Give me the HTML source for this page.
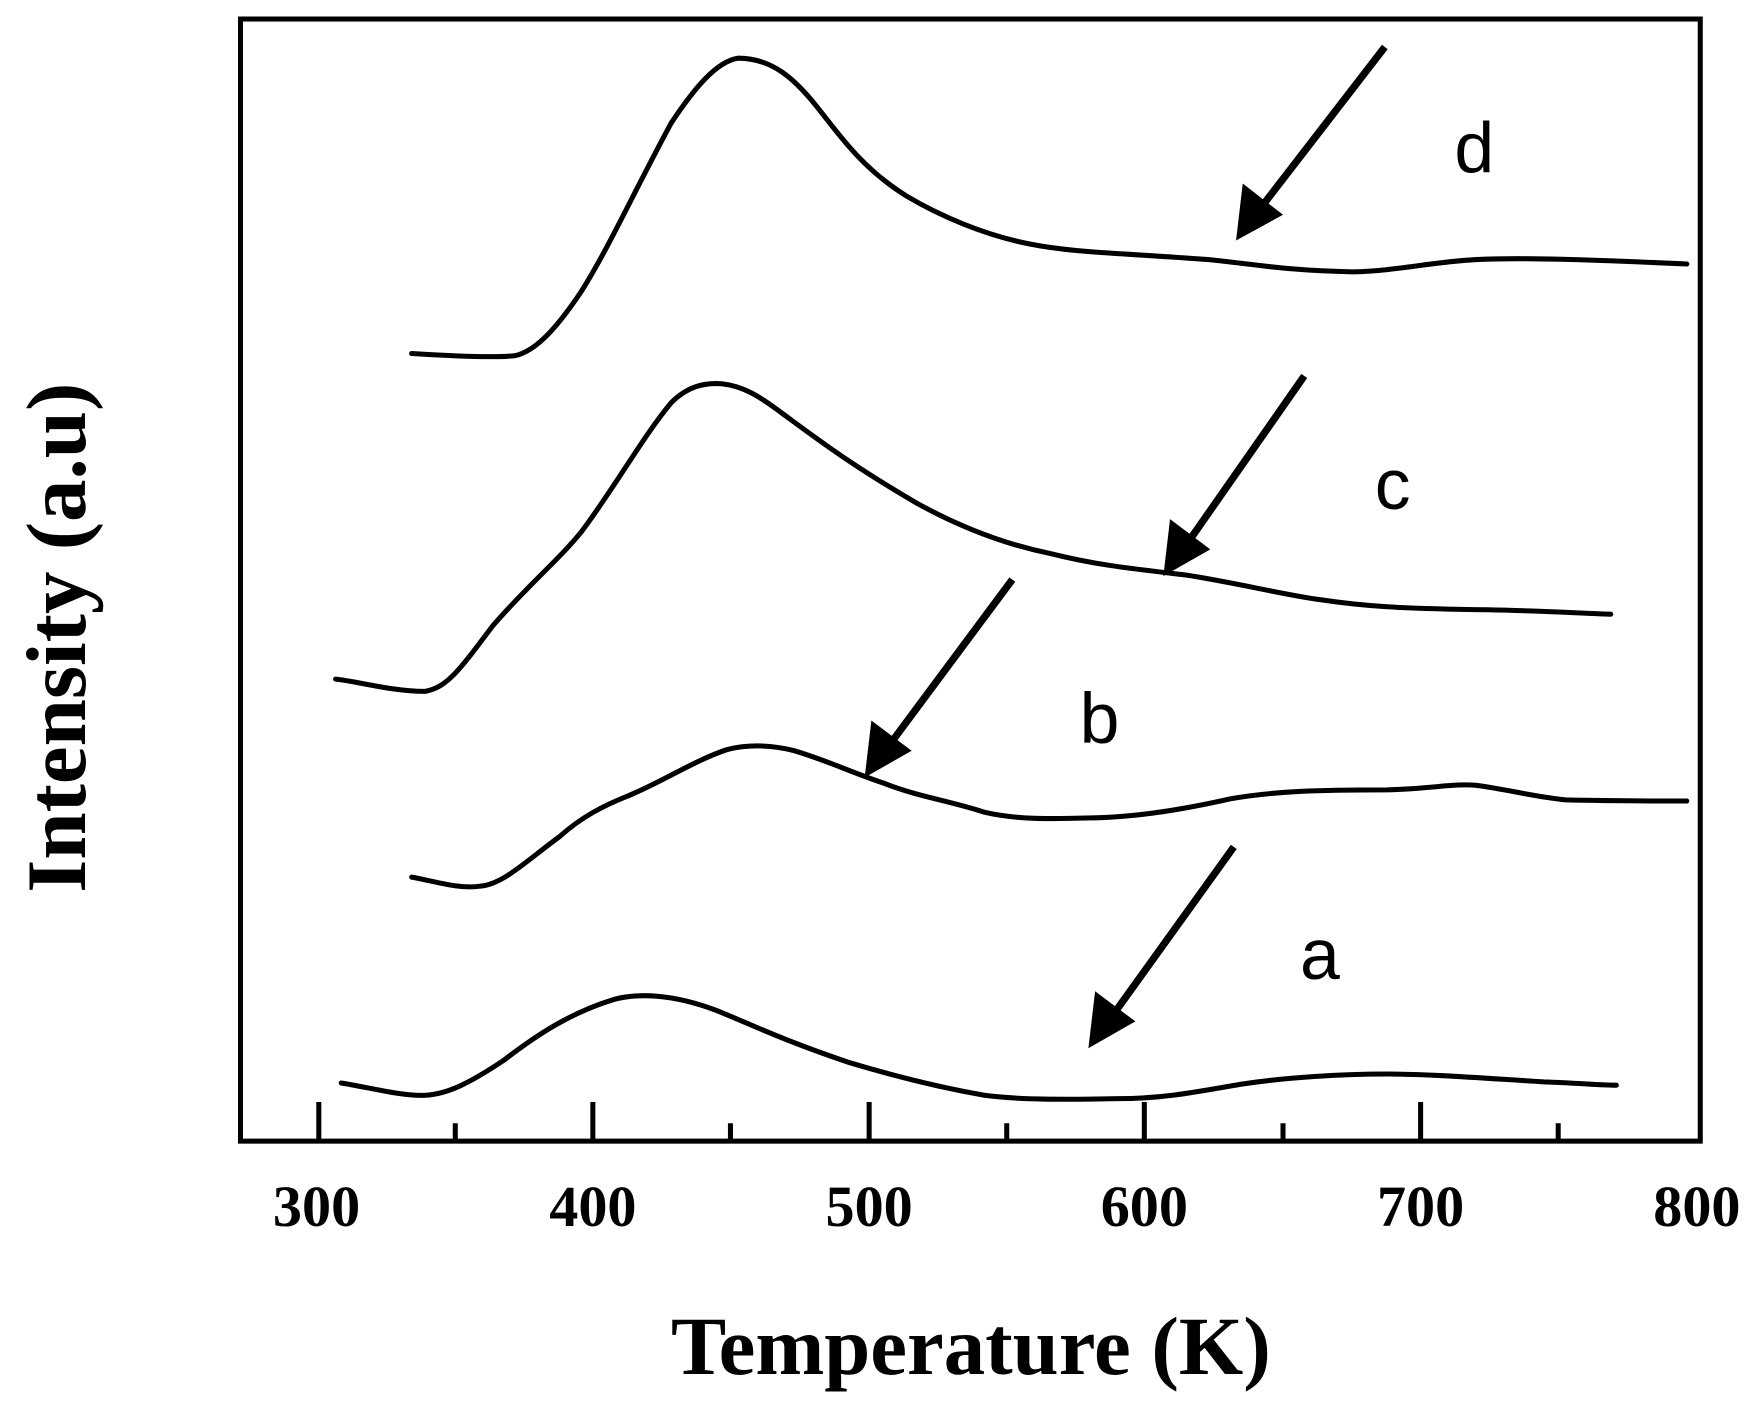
<!DOCTYPE html>
<html><head><meta charset="utf-8"><style>
html,body{margin:0;padding:0;background:#fff;}
svg{display:block;}
</style></head><body>
<svg width="1745" height="1413" viewBox="0 0 1560 1263" preserveAspectRatio="none" xmlns="http://www.w3.org/2000/svg">
<rect x="0" y="0" width="1560" height="1263" fill="#fff"/>
<rect x="215" y="17" width="1305" height="1003" fill="none" stroke="#000" stroke-width="4.5"/>
<g stroke="#000" stroke-width="4.5">
<line x1="285" y1="1020" x2="285" y2="985"/>
<line x1="530" y1="1020" x2="530" y2="985"/>
<line x1="777" y1="1020" x2="777" y2="985"/>
<line x1="1023" y1="1020" x2="1023" y2="985"/>
<line x1="1270" y1="1020" x2="1270" y2="985"/>
<line x1="407" y1="1020" x2="407" y2="1004"/>
<line x1="653" y1="1020" x2="653" y2="1004"/>
<line x1="900" y1="1020" x2="900" y2="1004"/>
<line x1="1147" y1="1020" x2="1147" y2="1004"/>
<line x1="1393" y1="1020" x2="1393" y2="1004"/>
</g>
<g font-family="Liberation Serif, serif" font-weight="bold" font-size="52" text-anchor="middle">
<text x="283" y="1096">300</text>
<text x="530" y="1096">400</text>
<text x="777" y="1096">500</text>
<text x="1023" y="1096">600</text>
<text x="1270" y="1096">700</text>
<text x="1517" y="1096">800</text>
</g>
<text x="868" y="1228" font-family="Liberation Serif, serif" font-weight="bold" font-size="74" text-anchor="middle">Temperature (K)</text>
<text transform="translate(76,570) rotate(-90)" font-family="Liberation Serif, serif" font-weight="bold" font-size="76" text-anchor="middle">Intensity (a.u)</text>
<g fill="none" stroke="#000" stroke-width="4.5" stroke-linejoin="round" stroke-linecap="round">
<path d="M368,316 C400,318 440,320 460,318 C480,314 500,290 520,260 C545,220 565,175 600,110 C620,80 640,55 660,52 C690,52 710,70 730,95 C750,120 770,150 810,175 C840,193 880,210 920,218 C960,226 1000,226 1080,232 C1120,236 1150,242 1210,243 C1250,242 1280,234 1320,232 C1360,230 1420,232 1508,236"/>
<path d="M300,607 C320,609 350,618 380,618 C400,614 410,600 440,560 C470,525 500,500 520,475 C550,435 575,390 600,360 C615,345 630,342 645,343 C665,345 680,355 700,370 C730,392 760,415 820,450 C860,472 900,487 940,495 C980,505 1010,508 1060,514 C1100,520 1150,532 1180,536 C1220,542 1250,544 1330,545 C1380,546 1410,548 1440,549"/>
<path d="M368,784 C390,788 410,795 430,792 C450,790 470,770 500,748 C520,730 540,720 560,712 C590,700 620,680 650,670 C670,665 690,666 710,671 C740,680 760,690 790,700 C820,712 850,716 880,726 C910,733 940,732 980,731 C1020,730 1060,723 1100,714 C1140,707 1180,706 1240,706 C1280,705 1300,700 1320,702 C1350,706 1370,712 1400,715 C1440,716 1480,716 1508,716"/>
<path d="M305,968 C330,972 360,980 380,979 C400,978 420,968 450,948 C480,925 510,905 550,893 C570,888 600,888 640,903 C670,915 700,930 760,950 C800,962 840,972 880,979 C910,983 950,983 1000,982 C1040,982 1070,976 1110,969 C1150,963 1200,960 1240,960 C1280,960 1330,964 1380,967 C1410,968 1430,970 1445,970"/>
</g>
<g stroke="#000" stroke-width="6.5">
<line x1="1238" y1="42" x2="1130" y2="182"/>
<line x1="1166" y1="336" x2="1064" y2="482"/>
<line x1="905" y1="518" x2="798" y2="662"/>
<line x1="1103" y1="757" x2="998" y2="903"/>
</g>
<g fill="#000">
<polygon points="1105,215 1111,164 1147,192"/>
<polygon points="1040,515 1046,464 1082,491"/>
<polygon points="773,695 779,644 815,671"/>
<polygon points="973,937 979,886 1015,913"/>
</g>
<g font-family="Liberation Sans, sans-serif" font-size="64" text-anchor="middle">
<text x="1318" y="154">d</text>
<text x="1245" y="455">c</text>
<text x="983" y="664">b</text>
<text x="1180" y="875">a</text>
</g>
</svg>
</body></html>
